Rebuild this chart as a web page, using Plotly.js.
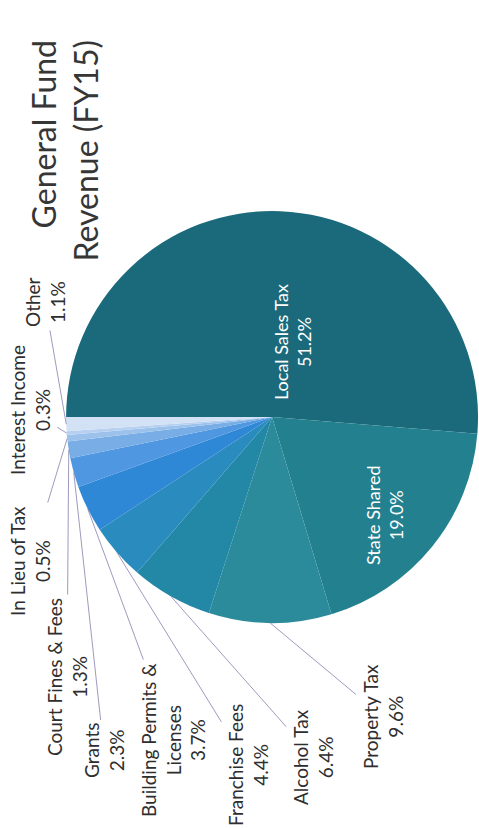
<!DOCTYPE html>
<html>
<head>
<meta charset="utf-8">
<script src="https://cdn.plot.ly/plotly-3.0.1.min.js"></script>
<style>
  html, body { margin: 0; padding: 0; background: #ffffff; overflow: hidden; width: 479px; height: 829px; }
  #chart { position: absolute; left: 0; top: 0; width: 829px; height: 479px;
           transform-origin: 0 0; transform: translate(0px, 829px) rotate(-90deg); }
</style>
</head>
<body>
<div id="chart"></div>
<script>
// ---- data ----
const categories = ["Local Sales Tax", "State Shared", "Property Tax", "Alcohol Tax",
  "Franchise Fees", "Building Permits &<br>Licenses", "Grants", "Court Fines & Fees",
  "In Lieu of Tax", "Interest Income", "Other"];
const sharePct = [51.2, 19.0, 9.6, 6.4, 4.4, 3.7, 2.3, 1.3, 0.5, 0.3, 1.1];
const sliceColors = ["#1b6a7c", "#23808f", "#2b8b9b", "#2387a6", "#2a8bbf", "#2f88d6",
  "#4f97e0", "#78ade6", "#9cc2ec", "#b5d0f0", "#d3e1f4"];
const insideLabel = [true, true, false, false, false, false, false, false, false, false, false];

// ---- layout (unrotated canvas, rotated with CSS afterwards) ----
const W = 829, H = 479;
const pieDomain = { x: [0.2485, 0.7455], y: [0.002, 0.862] };
// label centres in unrotated pixel coordinates [u, v]
const labelPos = [[487, 292], [314, 384], [112, 383], [72, 313], [64, 248], [89, 173], [78, 104],
  [152, 67], [268, 30], [419, 30], [527, 45]];

const FONT = "Lato, 'Open Sans', sans-serif";

const trace = {
  type: "pie",
  labels: categories,
  values: sharePct,
  sort: false,
  direction: "clockwise",
  rotation: 0,
  domain: pieDomain,
  marker: { colors: sliceColors, line: { width: 0 } },
  textinfo: "none",
  textposition: "none",
  hoverinfo: "label+value",
  showlegend: false
};

// labels + leader lines computed from the slice geometry
const total = sharePct.reduce((a, b) => a + b, 0);
const cxPx = W * (pieDomain.x[0] + pieDomain.x[1]) / 2;
const cyPx = H * (1 - (pieDomain.y[0] + pieDomain.y[1]) / 2);
const rPx = Math.min(W * (pieDomain.x[1] - pieDomain.x[0]), H * (pieDomain.y[1] - pieDomain.y[0])) / 2;
const annotations = [];
let cum = 0;
sharePct.forEach((v, i) => {
  const mid = (cum + v / 2) / total;
  cum += v;
  const text = categories[i] + "<br>" + v.toFixed(1) + "%";
  if (insideLabel[i]) {
    annotations.push({
      xref: "paper", yref: "paper",
      x: labelPos[i][0] / W, y: 1 - labelPos[i][1] / H,
      xanchor: "center", yanchor: "middle",
      text: text, showarrow: false,
      font: { family: FONT, size: 18, color: "#ffffff" }, align: "center"
    });
    return;
  }
  const th = 2 * Math.PI * mid;
  const px = cxPx + rPx * Math.sin(th);
  const py = cyPx - rPx * Math.cos(th);
  annotations.push({
    xref: "paper", yref: "paper",
    x: px / W, y: 1 - py / H,
    ax: labelPos[i][0] - px, ay: labelPos[i][1] - py,
    axref: "pixel", ayref: "pixel",
    text: text,
    showarrow: true, arrowhead: 0, arrowwidth: 0.8, arrowcolor: "#8580ad",
    standoff: 0, startstandoff: 2,
    font: { family: FONT, size: 19, color: "#2e2e2e" },
    align: "center"
  });
});

const layout = {
  width: W, height: H,
  margin: { l: 0, r: 0, t: 0, b: 0 },
  paper_bgcolor: "#ffffff",
  font: { family: FONT },
  title: {
    text: "General Fund<br>Revenue (FY15)",
    font: { family: FONT, size: 32, color: "#363636" },
    x: 789 / W, xanchor: "right", xref: "paper",
    y: 1 - 56 / H, yanchor: "top", yref: "container"
  },
  annotations: annotations
};

Plotly.newPlot("chart", [trace], layout, { displayModeBar: false, staticPlot: true });
</script>
</body>
</html>
